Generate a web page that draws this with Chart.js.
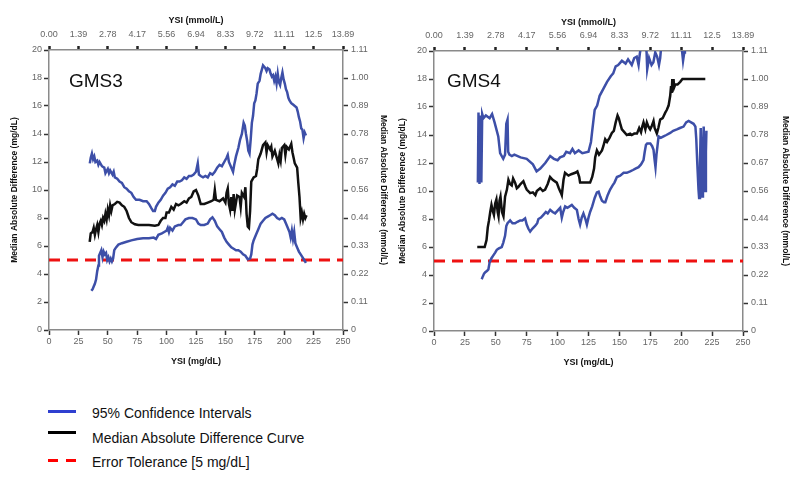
<!DOCTYPE html>
<html>
<head>
<meta charset="utf-8">
<script src="https://cdn.jsdelivr.net/npm/chart.js@4.4.1/dist/chart.umd.min.js"></script>
<style>
  html, body { margin: 0; padding: 0; background: #fff; }
  body { width: 800px; height: 484px; position: relative; overflow: hidden; font-family: 'Liberation Sans', Arial, sans-serif; }
  canvas { position: absolute; top: 0; }
  .lbl { position: absolute; font-size: 19px; line-height: 19px; color: #111; white-space: nowrap; }
  .leg { position: absolute; left: 92px; font-size: 14px; line-height: 14px; color: #111; white-space: nowrap; }
  .sw { position: absolute; height: 3px; }
</style>
</head>
<body>
<canvas id="c1" width="400" height="380" style="left:0px;width:400px;height:380px"></canvas>
<canvas id="c2" width="410" height="380" style="left:390px;width:410px;height:380px"></canvas>
<div class="lbl" style="left:69px;top:71px">GMS3</div>
<div class="lbl" style="left:447px;top:71px">GMS4</div>

<div class="sw" style="left:48px;top:410px;width:28px;background:#2f3fd0"></div>
<div class="sw" style="left:48px;top:431px;width:28px;background:#000"></div>
<div class="sw" style="left:48px;top:459px;width:10px;background:#f00"></div>
<div class="sw" style="left:66px;top:459px;width:10px;background:#f00"></div>
<div class="leg" style="top:405.5px">95% Confidence Intervals</div>
<div class="leg" style="top:430.5px">Median Absolute Difference Curve</div>
<div class="leg" style="top:454.5px">Error Tolerance [5 mg/dL]</div>

<script>
// ---------- data ----------
const mgTicks = [0, 25, 50, 75, 100, 125, 150, 175, 200, 225, 250];
const mmolTopLabels = ["0.00","1.39","2.78","4.17","5.56","6.94","8.33","9.72","11.11","12.5","13.89"];
const madTicks = [0, 2, 4, 6, 8, 10, 12, 14, 16, 18, 20];
const mmolRightLabels = ["0","0.11","0.22","0.33","0.44","0.56","0.67","0.78","0.89","1.00","1.11"];
const tolerance = [[0,5],[250,5]];

const gms3Median = [[34.6,6.3],[35.5,6.9],[37,7.0],[38,7.3],[39,6.8],[40,7.2],[41,7.5],[42,7.0],[43,7.6],[44,7.8],[45,7.5],[46,8.0],[47,7.8],[48,8.3],[49,7.9],[50,8.6],[51,8.2],[52,8.9],[53,8.5],[54,8.9],[56,9.0],[58,9.15],[60,9.1],[62,8.9],[64,8.8],[66,8.5],[68,8.0],[70,7.7],[73,7.55],[76,7.5],[80,7.5],[85,7.5],[90,7.45],[93,7.5],[95,7.8],[97,8.0],[99,8.0],[100,8.4],[102,8.4],[104,8.8],[106,8.6],[108,9.0],[110,8.9],[112,9.0],[115,9.2],[117,9.1],[119,9.4],[121,9.5],[123,9.9],[125,10.0],[127,9.6],[129,9.0],[132,9.0],[135,9.1],[138,9.2],[140,9.3],[141,10.0],[142,9.3],[145,9.2],[148,9.4],[150,9.1],[151,9.8],[152,10.1],[153,9.0],[154,8.6],[155,9.5],[156,8.5],[157,9.7],[158,8.6],[160,9.6],[162,9.5],[163,8.8],[164,9.8],[166,9.5],[167,10.2],[168,8.3],[169,7.4],[170,7.3],[171,8.5],[172,10.6],[174,10.9],[176,11.0],[177,11.5],[178,12.2],[180,12.6],[182,13.2],[184,13.4],[185,12.7],[186,13.2],[188,12.9],[189,13.1],[190,12.4],[192,12.8],[194,12.2],[195,11.9],[196,12.5],[197,12.1],[198,13.0],[200,13.2],[201,12.5],[202,13.1],[204,12.9],[206,13.3],[207,12.7],[208,12.3],[209,11.9],[211,11.6],[212,10.5],[213,9.5],[214,8.0],[215,8.4],[216,7.9],[217,8.3],[218,8.0],[219,8.2]];

const gms3Upper = [[34.7,11.9],[35.5,12.3],[36.5,12.6],[37.5,12.2],[38.5,12.4],[39.5,12.0],[41,12.1],[42,11.8],[43,12.0],[45,11.7],[47,11.6],[48,11.2],[50,11.5],[51,11.2],[52,11.4],[54,11.1],[55,11.3],[56,10.9],[58,10.8],[60,10.6],[62,10.5],[64,10.2],[66,10.1],[68,9.9],[70,9.8],[72,9.5],[74,9.3],[77,9.3],[80,9.2],[83,9.2],[85,9.0],[87,8.7],[88.5,8.5],[90,8.5],[91,8.8],[93,9.1],[95,9.3],[97,9.6],[99,9.8],[101,10.1],[103,10.2],[105,10.4],[107,10.3],[109,10.6],[111,10.6],[113,10.7],[115,10.9],[117,10.8],[119,11.0],[121,11.0],[123,11.1],[125,11.3],[126.5,11.9],[127.5,11.1],[129,11.0],[131,10.9],[133,11.0],[135,10.9],[137,11.2],[139,11.1],[141,11.3],[143,11.6],[145,11.8],[147,11.7],[149,12.0],[151,12.3],[152,12.5],[153,12.0],[155,11.6],[156.5,11.3],[157.5,11.8],[159,12.4],[161,13.0],[162.5,13.6],[164,14.0],[165.5,14.8],[166.5,14.6],[167.5,14.0],[168.5,13.5],[169.5,12.8],[170.5,12.6],[171.5,13.6],[172.5,14.8],[173.5,15.3],[174.5,16.2],[175.5,16.4],[176.5,16.9],[177.5,17.6],[179,17.8],[180,18.3],[181,18.6],[182,18.9],[183,18.8],[184,18.7],[185,18.5],[186,18.7],[187.5,18.6],[188.5,18.3],[189.5,18.1],[190.5,18.2],[191.5,17.8],[192.5,18.1],[193.5,17.6],[194.5,18.3],[195.5,17.7],[196.5,17.5],[197.5,18.0],[198.5,18.4],[199.5,17.9],[200.5,17.6],[201.5,17.2],[202.5,17.0],[203.5,16.6],[204.5,16.4],[206,16.2],[207.5,16.1],[209,16.0],[210.5,15.9],[211.5,15.6],[212.5,15.2],[213.5,14.9],[214.5,14.4],[215.5,14.3],[216.5,13.7],[217.5,14.1],[218.5,13.9]];

const gms3Lower = [[36,2.8],[37,2.9],[38,3.1],[39,3.3],[40,3.6],[41,4.2],[42,4.6],[42.5,5.3],[43.5,5.5],[44.5,5.7],[45.5,5.2],[46.5,5.6],[47.5,5.4],[48.5,5.5],[49.5,5.0],[50.5,5.2],[51.5,4.9],[52.5,5.1],[53.5,4.9],[54.5,5.1],[55.5,5.7],[57,5.9],[59,6.1],[62,6.2],[66,6.3],[70,6.4],[75,6.5],[80,6.55],[85,6.55],[89,6.6],[91,6.5],[93,6.8],[96,6.9],[98,7.0],[100,7.1],[101,7.3],[102,7.0],[103,7.3],[105,7.1],[107,7.4],[110,7.5],[112,7.5],[114,7.7],[116,7.9],[119,8.0],[122,8.0],[125,7.9],[127,7.6],[129,7.5],[132,7.5],[135,7.6],[137,7.9],[139,8.05],[141,7.8],[143,7.4],[145,7.2],[147,7.0],[149,6.6],[151,6.3],[153,6.1],[155,5.9],[157,5.8],[159,5.7],[161,5.7],[163,5.6],[165,5.4],[167,5.3],[169,5.05],[171,5.1],[172,5.4],[173,6.1],[174,6.4],[176,6.8],[178,7.2],[180,7.6],[182,7.8],[184,8.0],[186,8.1],[188,8.2],[190,8.3],[192,8.2],[194,8.0],[196,7.9],[198,8.0],[200,7.9],[201.5,7.6],[203,7.3],[204.5,7.0],[205.5,6.6],[206.5,7.1],[207.5,6.5],[208.5,7.0],[209.5,6.2],[211,5.9],[212.5,5.6],[214,5.4],[215.5,5.2],[217,5.0],[218.5,4.8]];

const gms4Median = [[35,6.0],[38,6.0],[41,6.0],[42.5,6.5],[43.5,7.4],[44.5,7.9],[45.5,8.5],[46.5,9.0],[47.5,8.6],[48.5,8.3],[49.5,9.1],[50.5,9.4],[51.5,8.5],[52.2,8.2],[53,9.3],[53.8,9.6],[55,8.5],[56.2,8.2],[57.5,9.6],[59,10.1],[60.2,10.8],[61.5,10.5],[62.9,10.4],[64,10.9],[65.6,10.6],[67,10.2],[68.3,10.3],[70,10.5],[72.3,10.7],[74,10.3],[75,10.1],[77.8,9.85],[80,9.9],[82,9.7],[83.2,10.0],[85.9,10.2],[88,10.0],[89.9,10.1],[92,10.5],[93.9,11.0],[96,10.8],[99.3,10.6],[101,10.2],[102.5,9.9],[103.4,9.7],[104.8,10.8],[106,11.3],[108.8,11.1],[111,11.2],[114.2,11.3],[116,11.4],[117.5,11.0],[118.2,10.6],[122,10.6],[126.3,10.6],[128,11.0],[129.5,11.6],[130.4,12.4],[131.8,12.9],[133.5,12.6],[135.9,12.9],[137,13.2],[138.5,13.7],[140,13.5],[142,13.8],[143.9,14.15],[145.5,14.3],[147,14.9],[148.5,15.4],[149.5,15.2],[151,14.7],[152,14.4],[154,14.2],[156,14.0],[158.7,14.1],[160,14.0],[162,14.1],[164.2,14.1],[166,14.5],[167.5,14.2],[168.5,14.6],[169.5,14.9],[171,14.4],[172.2,14.9],[173.5,14.6],[174.9,14.4],[176,14.6],[177.6,15.0],[178.5,14.5],[180.3,14.1],[181.5,14.5],[183,15.1],[185,15.2],[187.1,15.6],[188.4,15.8],[189.8,16.1],[191.1,16.8],[191.8,17.5],[192.3,17.0],[192.8,18.0],[193.3,17.3],[193.8,18.0],[194.3,17.4],[195.2,17.6],[197,17.6],[199.2,17.8],[201,18.0],[203.3,18.0],[210,18.0],[219.5,18.0]];

const gms4Upper = [[35.5,10.6],[36,15.6],[36.8,10.5],[37.5,15.4],[38.3,10.6],[39,15.5],[40,15.2],[42,15.4],[45,15.2],[47,15.5],[49,14.9],[52,13.9],[53.5,12.7],[56,12.3],[57.5,12.6],[58.5,14.8],[59.5,15.1],[60,12.8],[61,12.6],[63,12.5],[65,12.6],[70,12.4],[75,12.3],[80,11.9],[83,11.4],[86,11.6],[90,12.0],[94,12.5],[97,12.3],[100,12.2],[102,12.4],[105,12.5],[107,12.8],[110,12.7],[112,13.0],[114,12.7],[117,12.9],[120,12.7],[125,12.8],[127,13.5],[128,14.3],[130,15.8],[132,16.1],[134,16.8],[137,17.3],[140,17.8],[143,18.2],[145,18.4],[147,18.9],[149,19.0],[152,19.3],[155,19.1],[157,19.4],[160,19.0],[162,19.5],[164,19.6],[165.5,19.0],[166.5,19.8],[168,20.6],[171,20.6],[172,19.9],[172.5,18.7],[174,19.5],[176,19.0],[177.5,19.2],[179,19.9],[180.5,19.6],[182,19.0],[183,19.5],[184,20.5],[200,20.6],[201.5,19.3],[202.5,19.9],[203,20.6],[205,20.8]];

const gms4Lower = [[38.6,3.7],[39.5,3.9],[40.5,4.1],[41.5,4.2],[43,4.3],[44,4.4],[45,4.9],[46.5,5.2],[48,5.4],[49.5,5.6],[50.8,5.8],[52.5,5.9],[54.8,6.0],[56,6.3],[57.5,6.8],[58.5,7.5],[59.5,7.7],[61.6,7.9],[63.5,7.7],[65.6,7.7],[67.5,7.8],[69.7,7.9],[71.5,7.9],[73.7,8.05],[75,7.6],[76.4,7.3],[77.8,7.1],[79.5,7.3],[81.8,7.5],[83.5,7.7],[84.5,8.0],[86.5,8.1],[88.5,8.3],[90.5,8.5],[92,8.4],[94,8.65],[96,8.5],[98,8.4],[100,8.6],[102.1,8.8],[103.4,8.1],[104.5,8.5],[106.1,8.9],[108,8.8],[111.5,9.0],[113.5,8.8],[115.6,8.65],[117,8.0],[118.2,7.6],[119.5,8.1],[120.9,8.4],[122.5,8.0],[123.7,7.6],[125,8.1],[126.3,8.5],[128,8.9],[130,9.5],[131.8,9.9],[133.2,9.95],[134.5,9.6],[135.9,9.3],[137.5,9.2],[138.6,9.2],[140.5,9.7],[142.5,10.1],[144.5,10.4],[146,10.6],[148,11.0],[150.6,11.1],[153.4,11.3],[156,11.3],[158.7,11.4],[161,11.5],[163,11.6],[165.5,11.7],[167.5,11.9],[169.5,12.2],[170.5,12.8],[171.5,13.3],[172.5,13.4],[175,13.4],[176.5,13.2],[177.6,12.95],[178.5,12.2],[179.2,11.7],[180,12.6],[180.8,13.2],[181.7,13.9],[183.5,13.8],[185.7,13.9],[188,14.0],[191.1,14.15],[193.5,14.3],[196.5,14.4],[199,14.5],[201.9,14.6],[204,14.9],[206,15.0],[208,14.9],[210,14.8],[211.5,14.6],[212.2,13.7],[213,12.0],[214,10.1],[214.5,9.5],[215.2,12.0],[215.8,14.5],[216.5,11.0],[217,9.6],[217.6,12.5],[218.2,14.6],[218.8,11.5],[219.4,10.0],[220,12.8],[220.4,14.3]];

// ---------- helpers ----------
const FONT = "'Liberation Sans', Arial, sans-serif";
const BLUE = '#3d4fa8';
const toXY = arr => arr.map(p => ({x: p[0], y: p[1]}));

function series(data, color, width, extra) {
  return Object.assign({
    data: toXY(data), showLine: true, borderColor: color, backgroundColor: color,
    borderWidth: width, pointRadius: 0, pointHoverRadius: 0, tension: 0, clip: 0
  }, extra || {});
}

function makeChart(id, L) {
  const tickFont = {family: FONT, size: 9};
  const common = () => ({
    border: {color: '#8a8a8a', width: 1.5},
    grid: {drawOnChartArea: false, color: '#333', tickLength: 5, tickWidth: 1.5}
  });
  return new Chart(document.getElementById(id), {
    type: 'scatter',
    data: {
      datasets: [
        series(L.lower, BLUE, 2.5),
        series(L.upper, BLUE, 2.5),
        series(L.median, '#111', 2.5),
        series(tolerance, '#ee1111', 3, {borderDash: [11, 7]})
      ]
    },
    options: {
      responsive: false, animation: false, devicePixelRatio: 1,
      layout: {padding: 0},
      plugins: {legend: {display: false}, tooltip: {enabled: false}},
      scales: {
        x: Object.assign(common(), {
          type: 'linear', position: 'bottom', min: 0, max: 250,
          afterBuildTicks: s => { s.ticks = mgTicks.map(v => ({value: v})); },
          afterFit: s => { s.height = L.bottomH; },
          ticks: {font: tickFont, color: '#666', padding: 1, maxRotation: 0, callback: v => String(v)},
          title: {display: true, text: 'YSI (mg/dL)', font: {family: FONT, size: 9, weight: 'bold'}, color: '#111', padding: {bottom: L.bottomTitlePad}}
        }),
        x2: Object.assign(common(), {
          type: 'linear', position: 'top', min: 0, max: 250,
          afterBuildTicks: s => { s.ticks = mgTicks.map(v => ({value: v})); },
          afterFit: s => { s.height = L.topH; },
          ticks: {font: tickFont, color: '#666', padding: 6, maxRotation: 0, callback: (v, i) => mmolTopLabels[i]},
          grid: {drawOnChartArea: false, color: '#222', tickLength: 4, tickWidth: 2.5},
          title: {display: true, text: 'YSI (mmol/L)', font: {family: FONT, size: 9, weight: 'bold'}, color: '#111', padding: {top: L.topTitlePad}}
        }),
        y: Object.assign(common(), {
          type: 'linear', position: 'left', min: 0, max: 20,
          afterBuildTicks: s => { s.ticks = madTicks.map(v => ({value: v})); },
          afterFit: s => { s.width = L.leftW; },
          ticks: {font: tickFont, color: '#666', padding: 2, callback: v => String(v)},
          title: {display: true, text: 'Median Absolute Difference (mg/dL)', font: {family: FONT, size: 8.5, weight: 'bold'}, color: '#111', padding: {top: L.leftTitlePad}}
        }),
        y2: Object.assign(common(), {
          type: 'linear', position: 'right', min: 0, max: 20,
          afterBuildTicks: s => { s.ticks = madTicks.map(v => ({value: v})); },
          afterFit: s => { s.width = L.rightW; },
          ticks: {font: tickFont, color: '#666', padding: 3, callback: (v, i) => mmolRightLabels[i]},
          title: {display: true, text: 'Median Absolute Difference (mmol/L)', font: {family: FONT, size: 8.5, weight: 'bold'}, color: '#111', padding: {top: L.rightTitlePad}}
        })
      }
    }
  });
}

makeChart('c1', {
  lower: gms3Lower, upper: gms3Upper, median: gms3Median,
  leftW: 49, rightW: 57, topH: 50, bottomH: 50,
  topTitlePad: 15.5, bottomTitlePad: 13.5, leftTitlePad: 10, rightTitlePad: 12
});
makeChart('c2', {
  lower: gms4Lower, upper: gms4Upper, median: gms4Median,
  leftW: 44, rightW: 57, topH: 51, bottomH: 49,
  topTitlePad: 17, bottomTitlePad: 12.5, leftTitlePad: 8, rightTitlePad: 10
});
</script>
</body>
</html>
